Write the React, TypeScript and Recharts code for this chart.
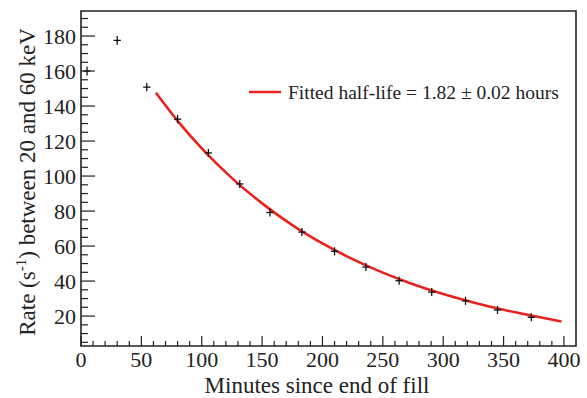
import React from 'react';
import {
  ComposedChart,
  XAxis,
  YAxis,
  Scatter,
  Line,
  ErrorBar,
  ReferenceArea,
  Legend,
} from 'recharts';

// Measured count rate after the end of the fill
const TIMES = [5, 30, 54.5, 80, 105.5, 131.5, 156.5, 183, 210, 236, 263.5, 290.5, 318.5, 345, 373];
const RATES = [160, 177.5, 150.8, 132.5, 113.2, 95.5, 79.2, 68, 57, 48, 40.2, 33.7, 28.7, 23.5, 19.3];
const TIME_ERRS = [3, 3, 3, 3, 3, 3, 3, 3, 3, 3, 3, 3, 3, 3, 3];
const RATE_ERRS = [2.5, 2.5, 2.4, 2.4, 2.3, 2.3, 2.3, 2.3, 2.3, 2.3, 2.3, 2.3, 2.3, 2.3, 2.3];

// Exponential fit curve
const FIT_TIMES = [62, 80, 100, 125, 150, 175, 200, 225, 250, 275, 300, 325, 350, 375, 398];
const FIT_RATES = [147.6, 131.5, 115.8, 98.8, 84.4, 72.0, 61.5, 52.5, 44.8, 38.2, 32.6, 27.8, 23.6, 20.0, 16.9];

const X_LABELS = [0, 50, 100, 150, 200, 250, 300, 350, 400];
const Y_LABELS = [20, 40, 60, 80, 100, 120, 140, 160, 180];
const FIT_LABEL = 'Fitted half-life = 1.82 \u00b1 0.02 hours';
const X_TITLE = 'Minutes since end of fill';

const X_DOMAIN: [number, number] = [0, 410];
const Y_DOMAIN: [number, number] = [2.9, 194.3];

const W = 587;
const H = 398;
const PLOT_LEFT = 81;
const PLOT_TOP = 11;
const PLOT_RIGHT = 576;
const PLOT_BOTTOM = 346;

const SERIF: React.CSSProperties = { fontFamily: '"Liberation Serif"' };
const INK = '#222';
const RED = '#e8231f';

const points = TIMES.map((t, i) => ({ x: t, y: RATES[i], ex: TIME_ERRS[i], ey: RATE_ERRS[i] }));
const fit = FIT_TIMES.map((t, i) => ({ x: t, y: FIT_RATES[i] }));

const xTicks: number[] = [];
for (let v = 0; v <= 400; v += 10) xTicks.push(v);
const yTicks: number[] = [];
for (let v = 5; v <= 190; v += 5) yTicks.push(v);

const XTick = (p: any) => {
  const v = p.payload.value;
  const major = X_LABELS.includes(v);
  return (
    <g>
      <line x1={p.x} x2={p.x} y1={PLOT_BOTTOM} y2={PLOT_BOTTOM - (major ? 10 : 5)} stroke={INK} strokeWidth={1.2} />
      {major && (
        <text x={p.x} y={PLOT_BOTTOM + 21} textAnchor="middle" fontSize={22} style={SERIF} fill={INK}>
          {v}
        </text>
      )}
    </g>
  );
};

const YTick = (p: any) => {
  const v = p.payload.value;
  const major = Y_LABELS.includes(v);
  return (
    <g>
      <line x1={PLOT_LEFT} x2={PLOT_LEFT + (major ? 14 : 7)} y1={p.y} y2={p.y} stroke={INK} strokeWidth={1.2} />
      {major && (
        <text x={PLOT_LEFT - 5} y={p.y} dy="0.35em" textAnchor="end" fontSize={22} style={SERIF} fill={INK}>
          {v}
        </text>
      )}
    </g>
  );
};

const XTitle = () => (
  <text x={317} y={393} textAnchor="middle" fontSize={23} style={SERIF} fill={INK}>
    {X_TITLE}
  </text>
);

const YTitle = () => (
  <text
    x={35}
    y={182}
    transform="rotate(-90, 35, 182)"
    textAnchor="middle"
    fontSize={23}
    style={SERIF}
    fill={INK}
  >
    Rate (s
    <tspan fontSize={15} dy={-9}>-1</tspan>
    <tspan dy={9}>) between 20 and 60 keV</tspan>
  </text>
);

const FitLegend = () => (
  <svg width={340} height={30} style={{ display: 'block', overflow: 'visible' }}>
    <line x1={9} x2={41} y1={16} y2={16} stroke={RED} strokeWidth={2.5} />
    <text x={48} y={23} fontSize={19.5} style={SERIF} fill={INK}>
      {FIT_LABEL}
    </text>
  </svg>
);

const NoMarker = () => <g />;

export default function App() {
  return (
    <div style={{ position: 'absolute', left: 0, top: 0, width: W, height: H, background: '#fff' }}>
      <ComposedChart
        width={W}
        height={H}
        margin={{ top: PLOT_TOP, right: W - PLOT_RIGHT, bottom: 0, left: 0 }}
      >
        <XAxis
          type="number"
          dataKey="x"
          domain={X_DOMAIN}
          ticks={xTicks}
          interval={0}
          allowDataOverflow
          height={H - PLOT_BOTTOM}
          axisLine={false}
          tickLine={false}
          tick={XTick}
          label={{ content: XTitle }}
        />
        <YAxis
          type="number"
          dataKey="y"
          domain={Y_DOMAIN}
          ticks={yTicks}
          interval={0}
          allowDataOverflow
          width={PLOT_LEFT}
          axisLine={false}
          tickLine={false}
          tick={YTick}
          label={{ content: YTitle }}
        />
        <ReferenceArea
          x1={X_DOMAIN[0]}
          x2={X_DOMAIN[1]}
          y1={Y_DOMAIN[0]}
          y2={Y_DOMAIN[1]}
          fill="none"
          stroke={INK}
          strokeWidth={1.6}
          ifOverflow="visible"
        />
        <Line
          data={fit}
          dataKey="y"
          type="monotone"
          stroke={RED}
          strokeWidth={2.6}
          dot={false}
          activeDot={false}
          isAnimationActive={false}
        />
        <Scatter data={points} dataKey="y" shape={NoMarker} isAnimationActive={false}>
          <ErrorBar dataKey="ey" direction="y" width={0} stroke="#111" strokeWidth={1.3} isAnimationActive={false} />
          <ErrorBar dataKey="ex" direction="x" width={0} stroke="#111" strokeWidth={1.3} isAnimationActive={false} />
        </Scatter>
        <Legend
          layout="vertical"
          align="center"
          verticalAlign="middle"
          content={FitLegend}
          wrapperStyle={{ position: 'absolute', left: 240, top: 76, width: 340, height: 30 }}
        />
      </ComposedChart>
    </div>
  );
}
